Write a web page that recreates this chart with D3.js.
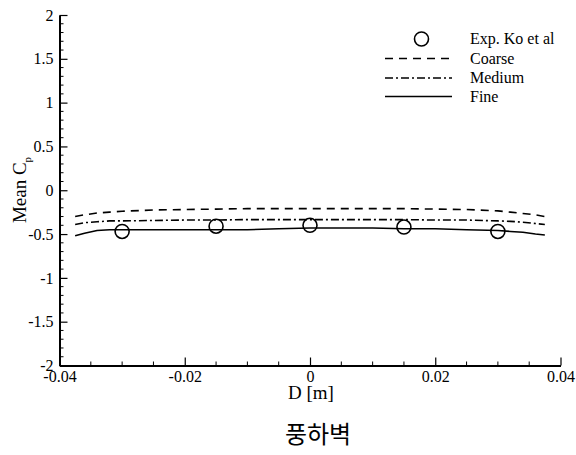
<!DOCTYPE html>
<html>
<head>
<meta charset="utf-8">
<script src="https://cdn.jsdelivr.net/npm/d3@7"></script>
<style>
  html, body { margin: 0; padding: 0; background: #fff; }
  svg { display: block; }
  .serif, .serif text { font-family: "Liberation Serif", "Times New Roman", "DejaVu Serif", serif !important; }
</style>
</head>
<body>
<svg id="chart" width="576" height="455"></svg>
<script>
// ---------- data ----------
const xPositions = [-0.0375, -0.036, -0.034, -0.032, -0.03, -0.025, -0.02, -0.015, -0.01, -0.005, 0, 0.005, 0.01, 0.015, 0.02, 0.025, 0.03, 0.032, 0.034, 0.036, 0.0375];
const coarseValues = [-0.30, -0.28, -0.26, -0.25, -0.24, -0.225, -0.22, -0.215, -0.21, -0.21, -0.21, -0.21, -0.21, -0.21, -0.215, -0.22, -0.235, -0.25, -0.265, -0.28, -0.30];
const mediumValues = [-0.39, -0.37, -0.36, -0.35, -0.35, -0.345, -0.34, -0.34, -0.335, -0.335, -0.335, -0.335, -0.335, -0.335, -0.34, -0.34, -0.35, -0.355, -0.365, -0.38, -0.39];
const fineValues = [-0.52, -0.49, -0.46, -0.45, -0.45, -0.45, -0.45, -0.45, -0.45, -0.44, -0.43, -0.43, -0.43, -0.44, -0.44, -0.45, -0.46, -0.47, -0.48, -0.50, -0.51];
const expX = [-0.03, -0.015, 0, 0.015, 0.03];
const expValues = [-0.47, -0.41, -0.40, -0.42, -0.47];
const xTickValues = [-0.04, -0.02, 0, 0.02, 0.04];
const yTickValues = [-2, -1.5, -1, -0.5, 0, 0.5, 1, 1.5, 2];
const legendLabels = ["Exp. Ko et al", "Coarse", "Medium", "Fine"];
const xLabel = "D [m]";
const yLabel = "Mean C";
const title = "풍하벽";

// ---------- layout ----------
const svg = d3.select("#chart");
const x = d3.scaleLinear().domain([-0.04, 0.04]).range([59.5, 560.5]);
const y = d3.scaleLinear().domain([-2, 2]).range([365.5, 15]);

const g = svg.append("g").attr("class", "serif");

// minor ticks
const xMinor = d3.range(-0.04, 0.04001, 0.005).map(v => +v.toFixed(4)).filter(v => !xTickValues.some(t => Math.abs(t - v) < 1e-6));
const yMinor = d3.range(-2, 2.0001, 0.1).map(v => +v.toFixed(2)).filter(v => !yTickValues.some(t => Math.abs(t - v) < 1e-6));

g.selectAll(".xminor").data(xMinor).enter().append("line")
  .attr("x1", d => x(d)).attr("x2", d => x(d))
  .attr("y1", y(-2)).attr("y2", y(-2) - 4)
  .attr("stroke", "#000").attr("stroke-width", 1);
g.selectAll(".yminor").data(yMinor).enter().append("line")
  .attr("x1", x(-0.04)).attr("x2", x(-0.04) + 4)
  .attr("y1", d => y(d)).attr("y2", d => y(d))
  .attr("stroke", "#000").attr("stroke-width", 1);

// x axis (ticks inward)
const xAxis = d3.axisBottom(x).tickValues(xTickValues).tickSizeInner(-8).tickSizeOuter(0)
  .tickFormat(d => d === 0 ? "0" : String(d).replace("−", "-"));
const gx = g.append("g").attr("class", "serif").attr("transform", `translate(0,${y(-2)})`).call(xAxis);
gx.attr("font-family", null);
gx.select(".domain").attr("stroke", "#000").attr("stroke-width", 2);
gx.selectAll(".tick line").attr("stroke", "#000").attr("stroke-width", 1.2);
gx.selectAll(".tick text").attr("font-size", 16).attr("fill", "#000")
  .attr("y", 5).attr("dy", "0.71em");

// y axis (ticks inward)
const yAxis = d3.axisLeft(y).tickValues(yTickValues).tickSizeInner(-8).tickSizeOuter(0)
  .tickFormat(d => String(d).replace("−", "-"));
const gy = g.append("g").attr("class", "serif").attr("transform", `translate(${x(-0.04)},0)`).call(yAxis);
gy.attr("font-family", null);
gy.select(".domain").attr("stroke", "#000").attr("stroke-width", 2);
gy.selectAll(".tick line").attr("stroke", "#000").attr("stroke-width", 1.2);
gy.selectAll(".tick text").attr("font-size", 16).attr("fill", "#000")
  .attr("x", -6);

// axis labels
svg.append("text").attr("class", "serif").attr("x", 311).attr("y", 399).attr("text-anchor", "middle")
  .attr("font-size", 19).text(xLabel);
const yl = svg.append("text").attr("class", "serif").attr("transform", "translate(26,190) rotate(-90)")
  .attr("text-anchor", "middle").attr("font-size", 19);
yl.append("tspan").text(yLabel);
yl.append("tspan").attr("font-size", 11).attr("dy", 5).text("p");

// series lines
const line = d3.line().x(d => x(d[0])).y(d => y(d[1]));
const series = [
  { vals: coarseValues, dash: "8,6" },
  { vals: mediumValues, dash: "8,3,2,3" },
  { vals: fineValues, dash: null }
];
series.forEach(s => {
  g.append("path").datum(xPositions.map((v, i) => [v, s.vals[i]]))
    .attr("d", line).attr("fill", "none").attr("stroke", "#000")
    .attr("stroke-width", 1.6).attr("stroke-dasharray", s.dash);
});

// experimental circles
g.selectAll(".exp").data(expX.map((v, i) => [v, expValues[i]])).enter().append("circle")
  .attr("cx", d => x(d[0])).attr("cy", d => y(d[1])).attr("r", 7)
  .attr("fill", "none").attr("stroke", "#000").attr("stroke-width", 1.6);

// legend
const lg = svg.append("g").attr("class", "serif");
const rowsY = [39, 58.5, 78, 96.5];
lg.append("circle").attr("cx", 421.5).attr("cy", rowsY[0]).attr("r", 7)
  .attr("fill", "none").attr("stroke", "#000").attr("stroke-width", 1.6);
series.forEach((s, i) => {
  lg.append("line").attr("x1", 385).attr("x2", 452).attr("y1", rowsY[i + 1]).attr("y2", rowsY[i + 1])
    .attr("stroke", "#000").attr("stroke-width", 1.6).attr("stroke-dasharray", s.dash);
});
legendLabels.forEach((t, i) => {
  lg.append("text").attr("x", 470).attr("y", rowsY[i]).attr("dy", "0.33em")
    .attr("font-size", 16).text(t);
});

// title
svg.append("text").attr("x", 318).attr("y", 443).attr("text-anchor", "middle")
  .attr("font-family", "'Noto Sans CJK KR', sans-serif").attr("font-size", 24).text(title);
</script>
</body>
</html>
